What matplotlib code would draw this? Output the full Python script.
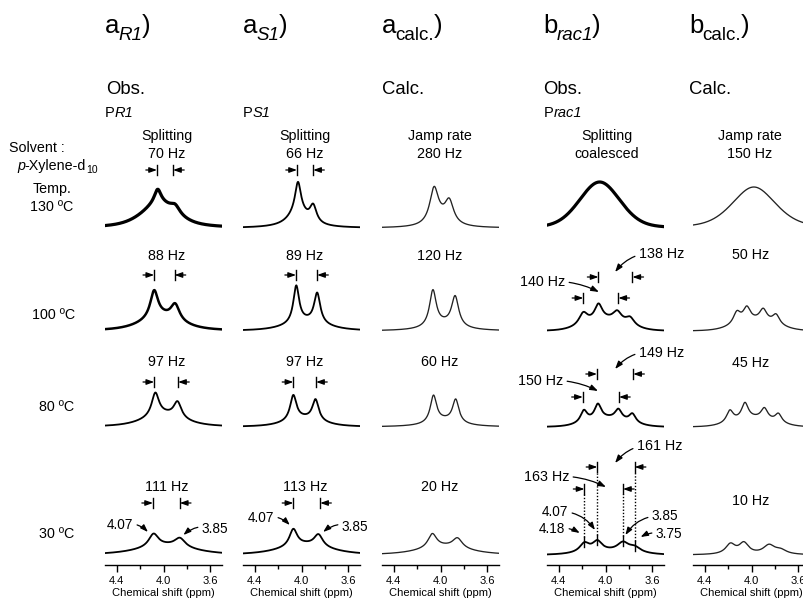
import numpy as np
import matplotlib
matplotlib.use('Agg')
import matplotlib.pyplot as plt

plt.rcParams['font.family'] = ['Liberation Sans', 'DejaVu Sans']

W, H = 804, 602

# ---------------- data ----------------
# titles as (text, style) pieces: main letter, subscript, closing bracket
col_titles = [('a', 'R1', 'italic'), ('a', 'S1', 'italic'), ('a', 'calc.', 'normal'),
              ('b', 'rac1', 'italic'), ('b', 'calc.', 'normal')]
col_kind = ['Obs.', '', 'Calc.', 'Obs.', 'Calc.']
col_sample = ['R1', 'S1', '', 'rac1', '']
temps = ['130 ºC', '100 ºC', '80 ºC', '30 ºC']

split_R1_hz = [70, 88, 97, 111]
split_S1_hz = [66, 89, 97, 113]
jump_a_hz = [280, 120, 60, 20]
jump_b_hz = [150, 50, 45, 10]
rac1_outer_hz = [None, 140, 150, 163]
rac1_inner_hz = [None, 138, 149, 161]

# splitting markers (ppm)
mark_R1 = [(4.056, 3.918), (4.08, 3.905), (4.08, 3.875), (4.09, 3.86)]
mark_S1 = [(4.039, 3.90), (4.047, 3.866), (4.07, 3.875), (4.07, 3.84)]
rac1_outer_mark = [None, (4.19, 3.89), (4.194, 3.884), (4.18, 3.85)]
rac1_inner_mark = [None, (4.06, 3.77), (4.073, 3.763), (4.07, 3.75)]
rac1_shifts = [4.18, 4.07, 3.85, 3.75]
peak_shifts_30 = [4.07, 3.85]

# spectra: peak components (ppm, half width ppm, height, lorentz fraction)
spec_R1 = [
    [(4.04, 0.18, 24, 0.7), (4.05, 0.035, 14, 1), (3.90, 0.05, 8, 1)],
    [(4.02, 0.20, 14, 0.7), (4.08, 0.04, 27, 1), (3.90, 0.045, 16, 1)],
    [(4.00, 0.20, 12, 0.7), (4.07, 0.038, 23, 1), (3.88, 0.04, 16, 1)],
    [(3.98, 0.28, 9, 0.7), (4.085, 0.05, 13, 1), (3.86, 0.055, 9, 1)],
]
spec_S1 = [
    [(4.03, 0.10, 16, 1), (4.03, 0.03, 29, 1), (3.90, 0.035, 17, 1)],
    [(3.96, 0.20, 9, 0.7), (4.045, 0.03, 37, 1), (3.866, 0.032, 30, 1)],
    [(3.98, 0.18, 8, 0.7), (4.07, 0.033, 25, 1), (3.88, 0.033, 21, 1)],
    [(3.97, 0.25, 10, 0.7), (4.07, 0.04, 17, 1), (3.855, 0.045, 12, 1)],
]
spec_acalc = [
    [(4.055, 0.045, 35, 1), (3.925, 0.045, 22, 1), (3.99, 0.10, 6, 1)],
    [(4.065, 0.035, 36, 1), (3.875, 0.037, 30, 1), (3.97, 0.15, 6, 1)],
    [(4.06, 0.033, 27, 1), (3.87, 0.033, 23, 1), (3.965, 0.15, 6, 1)],
    [(4.07, 0.045, 14, 1), (3.855, 0.05, 10, 1), (3.97, 0.25, 8, 0.7)],
]
spec_rac1 = [
    [(4.05, 0.205, 46, 0.2)],
    [(4.19, 0.045, 12, 1), (4.06, 0.04, 16, 1), (3.90, 0.045, 10, 1), (3.79, 0.045, 8, 1), (4.0, 0.20, 10, 0)],
    [(4.185, 0.035, 12, 1), (4.065, 0.035, 15, 1), (3.89, 0.035, 10, 1), (3.77, 0.035, 9, 1), (3.98, 0.20, 8, 0)],
    [(4.18, 0.05, 9, 1), (4.07, 0.05, 10, 1), (3.85, 0.06, 9, 1), (3.75, 0.06, 5, 1), (3.97, 0.25, 3, 0)],
]
spec_bcalc = [
    [(3.98, 0.22, 41, 0.4)],
    [(4.125, 0.038, 12, 1), (4.04, 0.038, 14, 1), (3.90, 0.038, 12, 1), (3.79, 0.038, 10, 1), (3.96, 0.20, 9, 0)],
    [(4.185, 0.035, 12, 1), (4.056, 0.035, 16, 1), (3.89, 0.035, 11, 1), (3.77, 0.035, 9, 1), (3.98, 0.20, 8, 0)],
    [(4.18, 0.05, 10, 1), (4.065, 0.05, 11, 1), (3.85, 0.06, 9, 1), (3.75, 0.06, 4, 1)],
]
spectra = [spec_R1, spec_S1, spec_acalc, spec_rac1, spec_bcalc]
observed = [True, True, False, True, False]

# ---------------- layout (pixels) ----------------
col_left = [105, 243, 382, 547, 693]
head_left = [105, 243, 382, 543, 689]
panel_w = 117
row_base = [228, 331, 427, 555]
col_center = [167, 305, 440, 607, 750]

fig = plt.figure(figsize=(W / 100, H / 100), dpi=100)
renderer = fig.canvas.get_renderer()


def ftext(x, y, s, **kw):
    kw.setdefault('fontsize', 10.3)
    return fig.text(x / W, 1 - y / H, s, **kw)


def compose(x, y, pieces):
    """pieces: (text, fontsize, style, dy_px, dx_px) placed one after another on a baseline."""
    for s, fs, st, dy, dx in pieces:
        x += dx
        t = ftext(x, y + dy, s, fontsize=fs, style=st, va='baseline', ha='left')
        bb = t.get_window_extent(renderer)
        x = bb.x1


def lineshape(x, comps):
    y = np.zeros_like(x)
    for c, hw, a, eta in comps:
        u = (x - c) / hw
        y += a * (eta / (1 + u ** 2) + (1 - eta) * np.exp(-np.log(2) * u ** 2))
    return y


ARW = dict(arrowstyle='-|>,head_length=0.45,head_width=0.16', lw=0.9, color='k',
           shrinkA=0, shrinkB=0)


def split_marker(ax, left, right, y, L=0.095):
    for x0, x1 in [(left + L, left), (right - L, right)]:
        ax.annotate('', xy=(x1, y), xytext=(x0, y), arrowprops=ARW, annotation_clip=False)
        ax.plot([x1, x1], [y - 5, y + 5], color='k', lw=1.0, clip_on=False)


def curved(ax, text, target, txy, ha, rad, fs=10.3):
    ax.annotate(text, xy=target, xycoords='data', xytext=(txy[0], H - txy[1]),
                textcoords='figure pixels', ha=ha, va='center', fontsize=fs,
                annotation_clip=False,
                arrowprops=dict(arrowstyle='-|>,head_length=0.45,head_width=0.16', lw=0.9,
                                color='k', shrinkA=1, shrinkB=0,
                                connectionstyle='arc3,rad=%g' % rad))


xs = np.linspace(4.5, 3.5, 800)
axes = {}
for r in range(4):
    for c in range(5):
        base = row_base[r]
        ax = fig.add_axes([col_left[c] / W, (H - (base + 10)) / H, panel_w / W, 110 / H])
        ax.set_xlim(4.5, 3.5)
        ax.set_ylim(-10, 100)
        ax.patch.set_alpha(0)
        for s in ['top', 'left', 'right']:
            ax.spines[s].set_visible(False)
        ax.set_yticks([])
        if r == 3:
            ax.spines['bottom'].set_linewidth(1.0)
            ax.set_xticks([4.4, 4.0, 3.6])
            ax.set_xticklabels(['4.4', '4.0', '3.6'])
            ax.set_xticks([4.2, 3.8], minor=True)
            ax.tick_params(axis='x', which='major', length=5, width=1.0, labelsize=8, pad=3)
            ax.tick_params(axis='x', which='minor', length=3, width=1.0)
            ax.set_xlabel('Chemical shift (ppm)', fontsize=8, labelpad=1.5)
        else:
            ax.spines['bottom'].set_visible(False)
            ax.set_xticks([])
        ys = lineshape(xs, spectra[c][r])
        if observed[c]:
            lw = 2.3 if (r == 0 and c in (0, 3)) else (1.8 if (r == 1 and c == 0) else 1.3)
            ax.plot(xs, ys, color='k', lw=lw, solid_joinstyle='round')
        else:
            ax.plot(xs, ys, color='#222222', lw=0.95)
        axes[(r, c)] = ax

# ---------------- headers ----------------
for c in range(5):
    main, sub, st = col_titles[c]
    compose(head_left[c], 33, [(main, 18.5, 'normal', 0, 0), (sub, 13.5, st, 7, -1),
                               (')', 18.5, 'normal', 0, -0.5)])
    if col_kind[c]:
        ftext(head_left[c] + (1 if c == 0 else 0), 94, col_kind[c], fontsize=13.3, va='baseline')
    if col_sample[c]:
        compose(head_left[c] + (1 if c == 3 else 0), 117,
                [('P', 10.5, 'normal', 0, 0), (col_sample[c], 10.5, 'italic', 0, 0)])

ftext(9, 148, 'Solvent :', va='center')
compose(17, 170, [('p', 10.3, 'italic', 0, 0), ('-Xylene-d', 10.3, 'normal', 0, -0.5),
                  ('10', 7.5, 'normal', 3, 0)])
ftext(52, 189, 'Temp.', va='center', ha='center')
temp_y = [207, 315, 407, 534]
temp_x = [52, 54, 57, 57]
for r in range(4):
    ftext(temp_x[r], temp_y[r], temps[r], va='center', ha='center')

# row 1 column captions
ftext(col_center[0], 136, 'Splitting', ha='center', va='center')
ftext(col_center[0], 154, '%d Hz' % split_R1_hz[0], ha='center', va='center')
ftext(col_center[1], 136, 'Splitting', ha='center', va='center')
ftext(col_center[1], 154, '%d Hz' % split_S1_hz[0], ha='center', va='center')
ftext(col_center[2], 136, 'Jamp rate', ha='center', va='center')
ftext(col_center[2], 154, '%d Hz' % jump_a_hz[0], ha='center', va='center')
ftext(col_center[3], 136, 'Splitting', ha='center', va='center')
ftext(col_center[3], 154, 'coalesced', ha='center', va='center')
ftext(col_center[4], 136, 'Jamp rate', ha='center', va='center')
ftext(col_center[4], 154, '%d Hz' % jump_b_hz[0], ha='center', va='center')

hz_y = [None, 256, 362, 487]
hz_y_b = [None, 255, 363, 501]
for r in range(1, 4):
    ftext(col_center[0], hz_y[r], '%d Hz' % split_R1_hz[r], ha='center', va='center')
    ftext(col_center[1], hz_y[r], '%d Hz' % split_S1_hz[r], ha='center', va='center')
    ftext(col_center[2], hz_y[r], '%d Hz' % jump_a_hz[r], ha='center', va='center')
    ftext(col_center[4] + 1, hz_y_b[r], '%d Hz' % jump_b_hz[r], ha='center', va='center')

# splitting markers columns 1-2 (height above baseline in px)
mark_y = [58, 56, 45, 52]
for r in range(4):
    split_marker(axes[(r, 0)], *mark_R1[r], mark_y[r])
    split_marker(axes[(r, 1)], *mark_S1[r], mark_y[r])

# rac1 column annotations
outer_y = [None, 33, 30, 66]
inner_y = [None, 54, 53, 88]
inner_txt = [None, (639, 254), (639, 353), (637, 446)]
outer_txt = [None, (565, 282), (563, 381), (569, 477)]
inner_tgt = [None, (3.918, 59), (3.918, 58), (3.918, 92)]
outer_tgt = [None, (4.056, 39), (4.064, 36), (3.996, 68)]
for r in range(1, 4):
    ax = axes[(r, 3)]
    split_marker(ax, *rac1_outer_mark[r], outer_y[r])
    split_marker(ax, *rac1_inner_mark[r], inner_y[r])
    curved(ax, '%d Hz' % rac1_inner_hz[r], inner_tgt[r], inner_txt[r], 'left', 0.3)
    curved(ax, '%d Hz' % rac1_outer_hz[r], outer_tgt[r], outer_txt[r], 'right', -0.15)

# 30 ºC rac1: dotted guides and shift labels
ax = axes[(3, 3)]
guide_top = [66, 88, 66, 88]
vals = lineshape(np.array(rac1_shifts), spectra[3][3])
for p, v, t in zip(rac1_shifts, vals, guide_top):
    ax.plot([p, p], [v + 5, t - 5], color='k', lw=1.0, ls=(0, (1, 1.3)), clip_on=False)
    ax.plot([p, p], [v - 5, v + 5], color='k', lw=1.0, clip_on=False)
shift_txt = [(565, 529), (568, 512), (652, 516), (656, 534)]
shift_tgt = [(4.22, 22), (4.09, 25), (3.83, 20), (3.70, 18)]
shift_ha = ['right', 'right', 'left', 'left']
shift_rad = [-0.2, -0.3, 0.3, 0.2]
for p, t, g, ha, rad in zip(rac1_shifts, shift_txt, shift_tgt, shift_ha, shift_rad):
    curved(ax, '%.2f' % p, g, t, ha, rad, fs=9.8)

# 30 ºC peak labels for R1 and S1 columns
pk_txt = [[(133, 525), (202, 529)], [(274, 518), (342, 527)]]
pk_tgt = [[(4.133, 23), (3.83, 20)], [(4.10, 30), (3.815, 23)]]
for c in (0, 1):
    ax = axes[(3, c)]
    curved(ax, '%.2f' % peak_shifts_30[0], pk_tgt[c][0], pk_txt[c][0], 'right', -0.3, fs=9.8)
    curved(ax, '%.2f' % peak_shifts_30[1], pk_tgt[c][1], pk_txt[c][1], 'left', 0.3, fs=9.8)

fig.savefig('out.png', dpi=100)
